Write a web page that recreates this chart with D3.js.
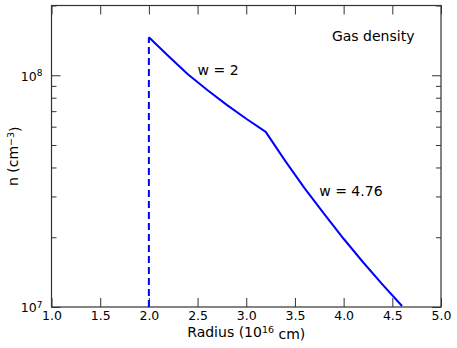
<!DOCTYPE html>
<html>
<head>
<meta charset="utf-8">
<script src="https://cdn.jsdelivr.net/npm/d3@7"></script>
<style>
	body { margin: 0; background: #fff; }
	text { font-family: "DejaVu Sans", sans-serif; fill: #000; }
</style>
</head>
<body>
<div class="Chart"></div>
<script>
// radius in 1e16 cm, density in cm^-3
var radius = [2.0, 2.2, 2.4, 2.6, 2.8, 3.0, 3.2, 3.4, 3.6, 3.8, 4.0, 4.2, 4.4, 4.6];
var density = [1.46e8, 1.21e8, 1.01e8, 8.64e7, 7.45e7, 6.49e7, 5.70e7, 4.27e7, 3.25e7, 2.52e7, 1.97e7, 1.56e7, 1.25e7, 1.01e7];
// inner edge (dashed)
var edgeRadius = [2.0, 2.0];
var edgeDensity = [1e7, 1.46e8];

var xTicks = [1.0, 1.5, 2.0, 2.5, 3.0, 3.5, 4.0, 4.5, 5.0];
var yTicks = [1e7, 1e8];
var yMinor = [2e7, 3e7, 4e7, 5e7, 6e7, 7e7, 8e7, 9e7, 2e8];

var W = 457, H = 348;
// plot box ("top" is taken by window.top, so prefix them)
var pLeft = 51.5, pRight = 441, pTop = 5.5, pBottom = 307;

var svg = d3.select('.Chart').append('svg')
	.attr('width', W)
	.attr('height', H);

var x = d3.scaleLinear().domain([1, 5]).range([pLeft, pRight]);
var y = d3.scaleLog().domain([1e7, 2e8]).range([pBottom, pTop]);

function styleAxis(g){
	g.select('.domain').remove();
	g.selectAll('.tick line').attr('stroke', '#333').attr('stroke-width', 1);
}

// x axis bottom + top
svg.append('g')
	.attr('transform', 'translate(0,' + pBottom + ')')
	.call(d3.axisBottom(x).tickValues(xTicks).tickSize(-9).tickPadding(4).tickFormat(d3.format('.1f')))
	.call(styleAxis)
	.selectAll('text')
	.style('font-size', '12.5px')
	.attr('font-family', null);

svg.append('g')
	.attr('transform', 'translate(0,' + pTop + ')')
	.call(d3.axisTop(x).tickValues(xTicks).tickSize(-9).tickFormat(''))
	.call(styleAxis);

// y axis left + right (major and minor)
var yl = svg.append('g')
	.attr('transform', 'translate(' + pLeft + ',0)')
	.call(d3.axisLeft(y).tickValues(yTicks).tickSize(-9).tickPadding(9).tickFormat(''))
	.call(styleAxis);

yl.selectAll('.tick text').each(function(d){
	var t = d3.select(this).style('font-size', '12.5px').attr('dy', '0.38em');
	t.append('tspan').text('10');
	t.append('tspan').attr('dy', '-0.45em').style('font-size', '9px').text(Math.round(Math.log10(d)));
});

svg.append('g')
	.attr('transform', 'translate(' + pLeft + ',0)')
	.call(d3.axisLeft(y).tickValues(yMinor).tickSize(-5).tickFormat(''))
	.call(styleAxis);

svg.append('g')
	.attr('transform', 'translate(' + pRight + ',0)')
	.call(d3.axisRight(y).tickValues(yTicks).tickSize(-9).tickFormat(''))
	.call(styleAxis);

svg.append('g')
	.attr('transform', 'translate(' + pRight + ',0)')
	.call(d3.axisRight(y).tickValues(yMinor).tickSize(-5).tickFormat(''))
	.call(styleAxis);

// frame
svg.append('rect')
	.attr('x', pLeft)
	.attr('y', pTop)
	.attr('width', pRight - pLeft)
	.attr('height', pBottom - pTop)
	.style('fill', 'none')
	.style('stroke', '#333')
	.style('stroke-width', 1.2);

// curves
var line = d3.line()
	.x(function(d){ return x(d[0]); })
	.y(function(d){ return y(d[1]); });

svg.append('path')
	.datum(d3.zip(edgeRadius, edgeDensity))
	.attr('d', line)
	.style('fill', 'none')
	.style('stroke', '#0000ff')
	.style('stroke-width', 2)
	.style('stroke-dasharray', '7,4');

svg.append('path')
	.datum(d3.zip(radius, density))
	.attr('d', line)
	.style('fill', 'none')
	.style('stroke', '#0000ff')
	.style('stroke-width', 2)
	.style('stroke-linejoin', 'round');

// annotations
svg.append('text')
	.attr('x', x(2.5))
	.attr('y', y(1e8))
	.style('font-size', '14px')
	.text('w = 2');

svg.append('text')
	.attr('x', x(3.75))
	.attr('y', y(3e7))
	.style('font-size', '14px')
	.text('w = 4.76');

svg.append('text')
	.attr('x', x(3.88))
	.attr('y', y(1.4e8))
	.style('font-size', '14px')
	.text('Gas density');

// axis labels
var xl = svg.append('text')
	.attr('x', (pLeft + pRight) / 2)
	.attr('y', 337)
	.attr('text-anchor', 'middle')
	.style('font-size', '14px');
xl.append('tspan').text('Radius (10');
xl.append('tspan').attr('dy', '-0.45em').style('font-size', '9.5px').text('16');
xl.append('tspan').attr('dy', '0.45em').text(' cm)');

var ylab = svg.append('text')
	.attr('transform', 'translate(18,' + ((pTop + pBottom) / 2) + ') rotate(-90)')
	.attr('text-anchor', 'middle')
	.style('font-size', '14px');
ylab.append('tspan').text('n (cm');
ylab.append('tspan').attr('dy', '-0.45em').style('font-size', '9.5px').text('\u22123');
ylab.append('tspan').attr('dy', '0.45em').text(')');
</script>
</body>
</html>
